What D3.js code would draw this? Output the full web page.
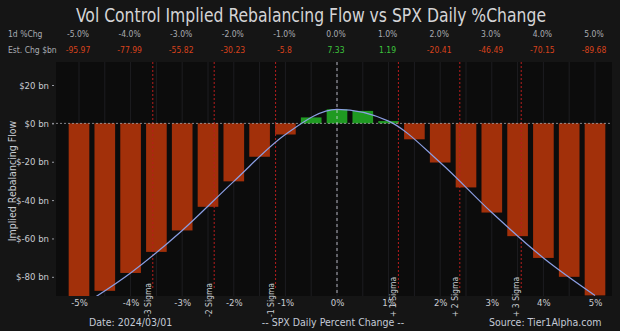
<!DOCTYPE html>
<html>
<head>
<meta charset="utf-8">
<script src="https://cdn.jsdelivr.net/npm/d3@7/dist/d3.min.js"></script>
<style>
  html, body { margin: 0; padding: 0; background: #151515; }
  svg { display: block; }
  text { font-family: "DejaVu Sans Condensed", "Liberation Sans Narrow", "DejaVu Sans", sans-serif; }
</style>
</head>
<body>
<svg id="chart" width="620" height="331"></svg>
<script>
// SPX one-day move (%) for each bar, in half-percent steps
const barPct = [-5, -4.5, -4, -3.5, -3, -2.5, -2, -1.5, -1, -0.5, 0, 0.5, 1, 1.5, 2, 2.5, 3, 3.5, 4, 4.5, 5];
// Estimated vol-control rebalancing flow ($bn) for each bar
const barFlow = [-95.97, -87.3, -77.99, -67.0, -55.82, -43.5, -30.23, -17.4, -5.8, 3.1, 7.33, 6.5, 1.19,
                 -8.3, -20.41, -33.4, -46.49, -58.8, -70.15, -80.0, -89.68];

// Summary table (whole-percent moves)
const tablePct = [-5, -4, -3, -2, -1, 0, 1, 2, 3, 4, 5];
const tablePctLabels = ["-5.0%", "-4.0%", "-3.0%", "-2.0%", "-1.0%", "0.0%", "1.0%", "2.0%", "3.0%", "4.0%", "5.0%"];
const tableFlow = [-95.97, -77.99, -55.82, -30.23, -5.8, 7.33, 1.19, -20.41, -46.49, -70.15, -89.68];
const tableFlowLabels = ["-95.97", "-77.99", "-55.82", "-30.23", "-5.8", "7.33", "1.19", "-20.41", "-46.49", "-70.15", "-89.68"];

// Axis ticks
const xTicks = [-5, -4, -3, -2, -1, 0, 1, 2, 3, 4, 5];
const yTicks = [20, 0, -20, -40, -60, -80];

// One-day sigma bands (in % move)
const sigmaPct = 1.19;
const sigmaMultiples = [-3, -2, -1, 1, 2, 3];
const sigmaLabels = ["-3 Sigma", "-2 Sigma", "-1 Sigma", "+ 1 Sigma", "+ 2 Sigma", "+ 3 Sigma"];

const svg = d3.select("#chart");
const W = 620, H = 331;
const plot = { left: 56, right: 612, top: 62, bottom: 296 };

const x = d3.scaleLinear().domain([-5, 5]).range([79, 595]);
const y = d3.scaleLinear().domain([-90, 32]).range([plot.bottom, plot.top]);
const barW = x(0.4) - x(0);

const colors = {
  neg: "#a2300a", pos: "#1f9a22",
  negText: "#d8421c", posText: "#3cc43c",
  text: "#c9ccd2", dim: "#a9acb2"
};

svg.append("rect").attr("width", W).attr("height", H).attr("fill", "#151515");
svg.append("rect")
  .attr("x", plot.left).attr("y", plot.top)
  .attr("width", plot.right - plot.left).attr("height", plot.bottom - plot.top)
  .attr("fill", "#0c0c0c");

svg.append("defs").append("clipPath").attr("id", "plotClip")
  .append("rect")
  .attr("x", plot.left).attr("y", plot.top)
  .attr("width", plot.right - plot.left).attr("height", plot.bottom - plot.top);

// Title
svg.append("text")
  .attr("x", 311).attr("y", 22)
  .attr("text-anchor", "middle")
  .attr("font-size", 19)
  .attr("textLength", 470).attr("lengthAdjust", "spacingAndGlyphs")
  .attr("fill", "#d4d4d6")
  .text("Vol Control Implied Rebalancing Flow vs SPX Daily %Change");

// Summary table
const table = svg.append("g").attr("font-size", 8.5);
table.append("text").attr("x", 8).attr("y", 37).attr("fill", colors.dim).text("1d %Chg");
table.append("text").attr("x", 8).attr("y", 53).attr("fill", colors.dim).text("Est. Chg $bn");
table.selectAll(".pctCell").data(tablePct).join("text")
  .attr("class", "pctCell")
  .attr("x", d => x(d) - 1).attr("y", 37)
  .attr("text-anchor", "middle").attr("fill", colors.dim)
  .text((d, i) => tablePctLabels[i]);
table.selectAll(".flowCell").data(tablePct).join("text")
  .attr("class", "flowCell")
  .attr("x", d => x(d) - 1).attr("y", 53)
  .attr("text-anchor", "middle")
  .attr("fill", (d, i) => tableFlow[i] >= 0 ? colors.posText : colors.negText)
  .text((d, i) => tableFlowLabels[i]);

// Faint vertical grid at each half-percent step
svg.append("g").selectAll("line").data(barPct).join("line")
  .attr("x1", d => x(d)).attr("x2", d => x(d))
  .attr("y1", plot.top).attr("y2", plot.bottom)
  .attr("stroke", "#1d1d21").attr("stroke-width", 1);

// Bars
svg.append("g").attr("clip-path", "url(#plotClip)")
  .selectAll("rect").data(barPct).join("rect")
  .attr("x", d => x(d) - barW / 2)
  .attr("width", barW)
  .attr("y", (d, i) => y(Math.max(0, barFlow[i])))
  .attr("height", (d, i) => Math.abs(y(barFlow[i]) - y(0)))
  .attr("fill", (d, i) => barFlow[i] >= 0 ? colors.pos : colors.neg);

// Sigma markers
const sig = svg.append("g");
sig.selectAll("line").data(sigmaMultiples).join("line")
  .attr("x1", d => x(d * sigmaPct)).attr("x2", d => x(d * sigmaPct))
  .attr("y1", plot.top).attr("y2", 290)
  .attr("stroke", "#b81e1e").attr("stroke-width", 1)
  .attr("stroke-dasharray", "2,2");
sig.selectAll("text").data(sigmaMultiples).join("text")
  .attr("transform", d => `translate(${x(d * sigmaPct) - 2},317) rotate(-90)`)
  .attr("font-size", 8.5).attr("fill", colors.text)
  .text((d, i) => sigmaLabels[i]);

// Zero-move marker
svg.append("line")
  .attr("x1", x(0)).attr("x2", x(0))
  .attr("y1", plot.top).attr("y2", 293)
  .attr("stroke", "#d8dae6").attr("stroke-opacity", 0.8)
  .attr("stroke-width", 1).attr("stroke-dasharray", "3,3");

// Zero-flow line
svg.append("line")
  .attr("x1", 52).attr("x2", plot.right)
  .attr("y1", y(0)).attr("y2", y(0))
  .attr("stroke", "#b8b8c0").attr("stroke-opacity", 0.7)
  .attr("stroke-width", 1).attr("stroke-dasharray", "2,2");

// Flow curve through the table estimates
const flowLine = d3.line()
  .x((d, i) => x(d))
  .y((d, i) => y(tableFlow[i]))
  .curve(d3.curveMonotoneX);
svg.append("path")
  .attr("clip-path", "url(#plotClip)")
  .attr("d", flowLine(tablePct))
  .attr("fill", "none")
  .attr("stroke", "#8c9fe4").attr("stroke-width", 1.2);

// Y axis
const yAxis = svg.append("g")
  .attr("transform", `translate(54,0)`)
  .call(d3.axisLeft(y).tickValues(yTicks).tickSize(2).tickPadding(3).tickFormat(d => "$" + d + " bn"));
yAxis.select(".domain").remove();
yAxis.selectAll(".tick line").attr("stroke", "#9a9ca4");
yAxis.selectAll(".tick text").attr("fill", colors.text).attr("font-size", 9.5)
  .style("font-family", "\"DejaVu Sans Condensed\", sans-serif");

svg.append("text")
  .attr("transform", "translate(16,181) rotate(-90)")
  .attr("text-anchor", "middle")
  .attr("font-size", 10.5).attr("fill", colors.text)
  .text("Implied Rebalancing Flow");

// X axis
const xAxis = svg.append("g")
  .attr("transform", `translate(0,296)`)
  .call(d3.axisBottom(x).tickValues(xTicks).tickSize(0).tickPadding(3).tickFormat(d => d + "%"));
xAxis.select(".domain").remove();
xAxis.selectAll(".tick text").attr("fill", colors.text).attr("font-size", 9.5)
  .style("font-family", "\"DejaVu Sans Condensed\", sans-serif");

// Footer
const foot = svg.append("g").attr("font-size", 10.5).attr("fill", "#c4cad6");
foot.append("text").attr("x", 89).attr("y", 326).text("Date: 2024/03/01");
foot.append("text").attr("x", 333).attr("y", 326).attr("text-anchor", "middle").text("-- SPX Daily Percent Change --");
foot.append("text").attr("x", 489).attr("y", 326).text("Source: Tier1Alpha.com");
</script>
</body>
</html>
